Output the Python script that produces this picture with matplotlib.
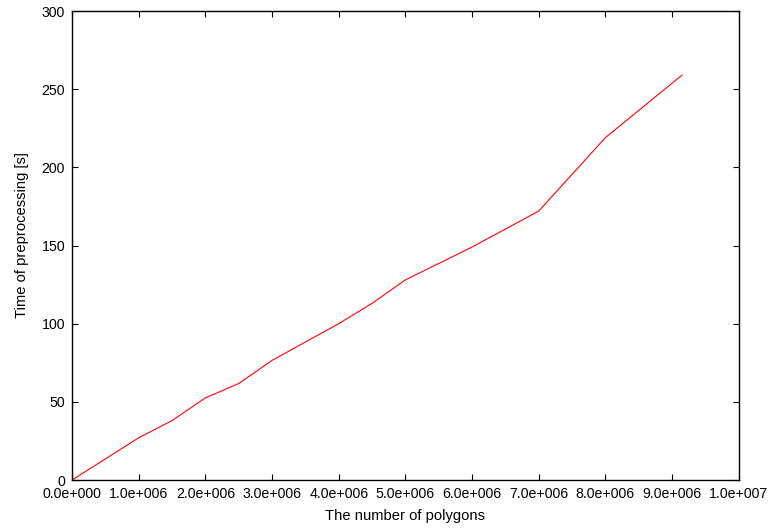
import numpy as np
import matplotlib
matplotlib.use('Agg')
from matplotlib import pyplot as plt
from matplotlib.ticker import FuncFormatter, MultipleLocator

plt.rcParams['font.family'] = ['Liberation Sans', 'DejaVu Sans']

# preprocessing time vs. polygon count
n_polygons = [0, 1.0e6, 1.5e6, 2.0e6, 2.5e6, 3.0e6, 4.0e6, 4.5e6, 5.0e6,
              6.0e6, 7.0e6, 8.0e6, 9.15e6]
prep_time = [0, 27.0, 38.0, 52.5, 61.7, 76.5, 100.0, 113.0, 128.0,
             149.0, 172.0, 219.0, 259.0]

fig = plt.figure(figsize=(7.72, 5.29), dpi=100)
ax = fig.add_axes([0.0933, 0.0926, 0.9569 - 0.0933, 0.9792 - 0.0926])

ax.plot(n_polygons, prep_time, color='#ff0000', lw=0.8)

ax.set_xlim(0, 1.0e7)
ax.set_ylim(0, 300)
ax.xaxis.set_major_locator(MultipleLocator(1.0e6))
ax.yaxis.set_major_locator(MultipleLocator(50))


def sci3(v, pos):
    # gnuplot-style mantissa with three digit exponent
    if v == 0:
        return '0.0e+000'
    e = int(np.floor(np.log10(abs(v))))
    m = v / 10 ** e
    return '{:.1f}e{}{:03d}'.format(m, '+' if e >= 0 else '-', abs(e))


ax.xaxis.set_major_formatter(FuncFormatter(sci3))
ax.tick_params(direction='in', length=4, width=0.8, top=True, right=True,
               labelsize=10.2, pad=5, colors='black')
for s in ax.spines.values():
    s.set_linewidth(1.0)

ax.set_xlabel('The number of polygons', fontsize=10.6, va='center')
ax.set_ylabel('Time of preprocessing [s]', fontsize=10.6, va='center')
ax.xaxis.set_label_coords(0.5, -0.077)
ax.yaxis.set_label_coords(-0.075, 0.522)

fig.savefig('out.png', dpi=100)
